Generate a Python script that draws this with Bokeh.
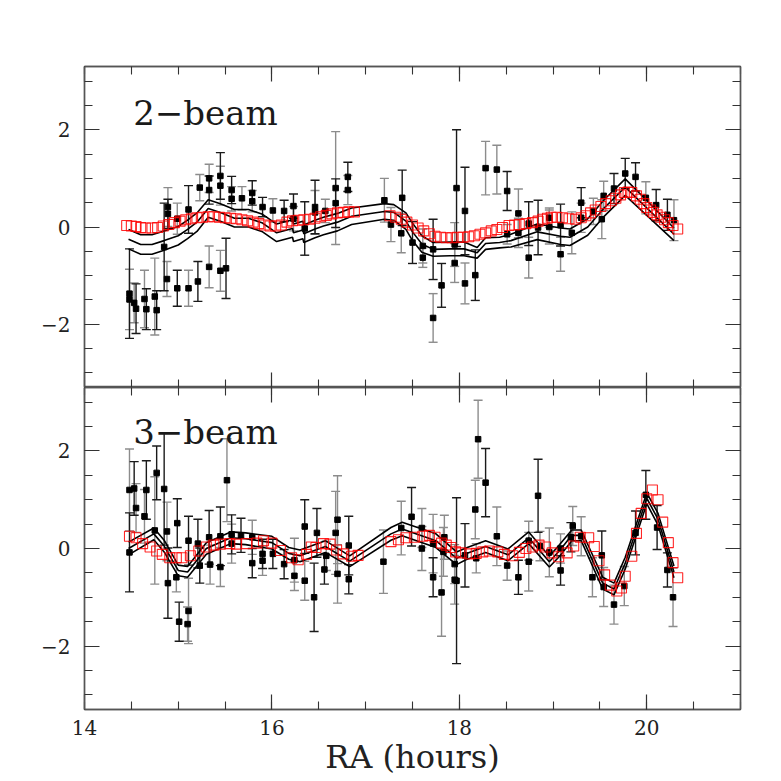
import numpy as np
from bokeh.plotting import figure
from bokeh.models import (ColumnDataSource, FixedTicker, LinearAxis, Range1d,
                          Whisker, TeeHead, Label)
from bokeh.layouts import column
from bokeh.embed import file_html
from bokeh.resources import INLINE

# ---------------- tick labels ----------------
X_TICKS = [14, 16, 18, 20]
Y_TICKS = [-2, 0, 2]
Y_LABELS = {-2: "\u22122", 0: "0", 2: "2"}
PANEL_NAMES = ["2\u2212beam", "3\u2212beam"]
X_TITLE = "RA (hours)"

# ---------------- 2-beam panel ----------------
# data points with dark error bars
top_a_x = [14.48, 14.55, 14.66, 14.77, 14.85, 14.89, 14.99, 15.11, 15.21, 15.33,
           15.45, 15.51, 15.57, 15.79, 15.90, 16.13, 16.23, 16.35, 16.46, 16.68,
           16.81, 17.39, 17.50, 17.72, 17.81, 17.97, 18.06, 18.17, 18.51, 18.74,
           18.84, 19.08, 19.30, 19.65, 19.77, 19.88, 20.10, 20.22]
top_a_y = [-1.37, -1.68, -1.69, -1.71, -0.41, 0.27, -1.26, 0.36, -1.12, 0.76,
           1.05, -0.85, 0.76, 0.70, 0.41, 0.33, 0.43, -0.03, 0.41, 0.49,
           1.03, 0.60, -0.32, -0.46, -1.20, 0.80, 0.33, -0.99, 0.74, 0.07,
           -0.01, 0.04, 0.50, 0.79, 1.10, 1.03, 0.45, 0.25]
top_a_err = [0.92, 0.51, 0.42, 0.40, 0.90, 0.30, 0.37, 0.49, 0.41, 0.29,
             0.48, 0.62, 0.28, 0.25, 0.20, 0.22, 0.25, 0.55, 0.55, 0.50,
             0.30, 0.57, 0.43, 0.62, 0.45, 1.20, 0.90, 0.52, 0.40, 0.45,
             0.56, 0.43, 0.31, 0.31, 0.31, 0.29, 0.32, 0.32]
# data points with grey error bars
top_b_x = [14.48, 14.53, 14.64, 14.75, 14.88, 14.89, 14.99, 15.11, 15.23, 15.33,
           15.33, 15.45, 15.45, 15.57, 15.68, 15.79, 16.01, 16.23, 16.46, 16.57,
           16.68, 16.81, 17.20, 17.27, 17.38, 17.61, 17.61, 17.72, 17.95, 17.95,
           18.06, 18.28, 18.40, 18.51, 18.63, 18.63, 18.74, 18.96, 18.96, 19.08,
           19.20, 19.30, 19.43, 19.52, 19.54, 19.99, 20.29]
top_b_y = [-1.49, -1.56, -1.48, -1.43, -1.07, 0.41, 0.17, -1.26, 0.81, 1.00,
           -0.82, 0.85, -0.90, 0.58, 0.59, 0.53, 0.34, 0.17, 0.30, 0.33,
           0.80, 0.76, 0.55, 0.05, -0.13, -0.39, -0.63, -1.87, -0.36, -0.74,
           -1.16, 1.21, 1.18, -0.15, 0.28, -0.12, -0.63, 0.00, 0.19, -0.56,
           -0.12, 0.19, 0.32, 0.16, 0.64, 0.60, 0.14]
top_b_err = [0.62, 0.41, 0.59, 0.79, 0.36, 0.40, 0.32, 0.37, 0.27, 0.29,
             0.43, 0.40, 0.42, 0.25, 0.24, 0.22, 0.24, 0.25, 0.45, 0.24,
             1.16, 0.30, 0.45, 0.35, 0.40, 0.35, 0.20, 0.50, 0.45, 0.40,
             0.42, 0.55, 0.50, 0.20, 0.50, 0.30, 0.42, 0.35, 0.20, 0.35,
             0.43, 0.30, 0.27, 0.40, 0.30, 0.33, 0.42]
# comparison series (open red squares)
top_red_x = [14.45, 14.50, 14.55, 14.60, 14.65, 14.72, 14.78, 14.84, 14.90, 14.96,
             15.02, 15.08, 15.14, 15.20, 15.26, 15.32, 15.38, 15.44, 15.50, 15.56,
             15.62, 15.68, 15.74, 15.80, 15.86, 15.92, 15.98, 16.04, 16.10, 16.16,
             16.22, 16.28, 16.34, 16.40, 16.46, 16.52, 16.58, 16.64, 16.70, 16.76,
             16.82, 16.88, 17.26, 17.32, 17.38, 17.44, 17.50, 17.56, 17.62, 17.68,
             17.74, 17.80, 17.86, 17.92, 17.98, 18.04, 18.10, 18.16, 18.22, 18.28,
             18.34, 18.40, 18.46, 18.53, 18.59, 18.64, 18.71, 18.78, 18.84, 18.89,
             18.94, 18.98, 19.04, 19.10, 19.17, 19.24, 19.30, 19.35, 19.40, 19.45,
             19.51, 19.56, 19.62, 19.67, 19.72, 19.76, 19.80, 19.84, 19.89, 19.93,
             19.97, 20.00, 20.04, 20.07, 20.11, 20.15, 20.19, 20.23, 20.28, 20.33]
top_red_y = [0.03, 0.02, 0.01, -0.01, -0.02, -0.02, -0.01, 0.02, 0.05, 0.09,
             0.12, 0.15, 0.17, 0.19, 0.20, 0.21, 0.21, 0.20, 0.19, 0.18,
             0.17, 0.15, 0.13, 0.10, 0.07, 0.04, 0.02, 0.02, 0.04, 0.10,
             0.13, 0.14, 0.15, 0.16, 0.18, 0.21, 0.24, 0.27, 0.29, 0.30,
             0.31, 0.31, 0.23, 0.20, 0.16, 0.10, 0.04, -0.02, -0.08, -0.14,
             -0.19, -0.21, -0.22, -0.22, -0.21, -0.21, -0.20, -0.18, -0.15, -0.12,
             -0.08, -0.05, -0.01, 0.03, 0.04, 0.05, 0.07, 0.09, 0.12, 0.16,
             0.18, 0.20, 0.20, 0.19, 0.17, 0.16, 0.19, 0.23, 0.29, 0.35,
             0.42, 0.48, 0.54, 0.59, 0.66, 0.71, 0.72, 0.71, 0.64, 0.57,
             0.48, 0.40, 0.35, 0.30, 0.25, 0.20, 0.15, 0.09, 0.03, -0.04]
# model: mean and spread
top_mod_x = [14.47, 14.60, 14.72, 14.85, 15.00, 15.10, 15.20, 15.32, 15.45, 15.60,
             15.75, 15.90, 16.05, 16.22, 16.23, 16.33, 16.34, 16.46, 16.55, 16.70,
             16.85, 17.20, 17.30, 17.43, 17.50, 17.60, 17.72, 17.90, 18.05, 18.19,
             18.28, 18.43, 18.55, 18.83, 19.08, 19.18, 19.37, 19.55, 19.77, 20.29]
top_mod_y = [-0.25, -0.36, -0.36, -0.28, -0.18, -0.05, 0.10, 0.38, 0.30, 0.18,
             0.18, 0.08, -0.12, -0.03, -0.12, -0.06, -0.14, -0.04, 0.02, 0.10,
             0.22, 0.32, 0.30, 0.12, -0.10, -0.35, -0.46, -0.45, -0.45, -0.53,
             -0.34, -0.32, -0.28, -0.10, -0.19, -0.21, 0.00, 0.40, 0.82, -0.15]
top_mod_sig = [0.20, 0.20, 0.20, 0.20, 0.19, 0.19, 0.19, 0.18, 0.18, 0.18,
               0.18, 0.18, 0.18, 0.18, 0.18, 0.18, 0.18, 0.18, 0.18, 0.18,
               0.17, 0.16, 0.16, 0.17, 0.18, 0.17, 0.14, 0.14, 0.14, 0.11,
               0.12, 0.11, 0.13, 0.16, 0.17, 0.17, 0.17, 0.17, 0.17, 0.13]

# ---------------- 3-beam panel ----------------
bot_a_x = [14.48, 14.53, 14.66, 14.77, 14.85, 14.89, 14.99, 15.01, 15.11, 15.21,
           15.23, 15.33, 15.45, 15.57, 15.67, 15.79, 15.90, 16.01, 16.13, 16.35,
           16.45, 16.48, 16.56, 16.82, 16.82, 17.49, 17.72, 17.97, 18.06, 18.28,
           18.63, 18.84, 19.08, 19.19, 19.52, 19.88, 19.99, 20.11, 20.22]
bot_a_y = [-0.08, 1.23, 1.20, 1.55, 1.22, -0.71, 0.52, -1.50, 0.16, 0.10,
           -0.35, 0.23, 0.25, 0.29, 0.27, -0.30, -0.11, -0.11, -0.32, 0.45,
           -1.00, 0.32, -0.43, 0.06, -0.63, 0.65, -0.59, -0.66, -0.14, 1.35,
           -0.59, 1.08, -0.45, 0.23, -0.14, 0.32, 1.10, 0.43, -0.44]
bot_a_err = [0.81, 0.55, 0.60, 0.55, 1.15, 0.72, 0.50, 0.40, 0.50, 0.50,
             0.36, 0.55, 0.60, 0.40, 0.35, 0.30, 0.30, 0.30, 0.30, 0.55,
             0.70, 0.50, 0.30, 0.60, 0.30, 0.60, 0.40, 1.70, 0.65, 0.70,
             0.35, 0.75, 0.30, 0.30, 0.50, 0.45, 0.50, 0.45, 0.35]
bot_b_x = [14.48, 14.55, 14.64, 14.75, 14.88, 14.98, 15.11, 15.10, 15.34, 15.45,
           15.52, 15.57, 15.79, 15.90, 16.24, 16.24, 16.35, 16.58, 16.68, 16.70,
           16.70, 17.19, 17.38, 17.60, 17.60, 17.72, 17.81, 17.83, 17.84, 17.95,
           17.95, 18.17, 18.20, 18.18, 18.40, 18.51, 18.74, 18.74, 18.86, 18.96,
           19.08, 19.21, 19.30, 19.42, 19.54, 19.65, 19.76, 20.28]
bot_b_y = [1.20, 0.83, 0.66, 0.37, 0.35, -0.59, -1.28, -1.55, -0.33, -0.38,
           1.40, 0.10, 0.23, -0.25, -0.56, -0.24, -0.66, -0.15, 0.32, 0.59,
           -0.52, -0.27, 0.42, 0.42, 0.00, 0.10, -0.90, -0.07, 0.23, -0.32,
           -0.64, 0.80, 2.24, -0.20, 0.25, -0.35, 0.16, -0.27, 0.05, -0.08,
           0.00, 0.46, 0.25, -0.59, -0.79, -1.15, -0.77, -1.00]
bot_b_err = [0.84, 0.50, 0.55, 1.10, 0.60, 0.30, 0.67, 0.35, 0.40, 0.40,
             0.85, 0.40, 0.35, 0.30, 0.30, 0.45, 0.40, 0.30, 0.85, 0.90,
             0.60, 0.65, 0.55, 0.40, 0.45, 0.60, 0.90, 0.50, 0.45, 0.40,
             0.50, 0.60, 0.80, 0.30, 0.60, 0.30, 0.40, 0.60, 0.30, 0.50,
             0.30, 0.40, 0.40, 0.40, 0.40, 0.40, 0.40, 0.60]
bot_red_x = [14.48, 14.55, 14.62, 14.70, 14.77, 14.83, 14.91, 14.98, 15.04, 15.13,
             15.22, 15.30, 15.38, 15.45, 15.55, 15.62, 15.73, 15.84, 15.91, 16.00,
             16.09, 16.21, 16.28, 16.37, 16.42, 16.47, 16.55, 16.62, 16.69, 16.76,
             16.85, 16.92, 17.27, 17.35, 17.43, 17.52, 17.61, 17.68, 17.74, 17.81,
             17.86, 17.91, 17.96, 18.02, 18.11, 18.18, 18.25, 18.32, 18.41, 18.48,
             18.57, 18.64, 18.71, 18.78, 18.85, 18.92, 18.99, 19.06, 19.15, 19.22,
             19.29, 19.38, 19.44, 19.49, 19.55, 19.61, 19.68, 19.73, 19.77, 19.84,
             19.89, 19.94, 20.00, 20.06, 20.12, 20.17, 20.23, 20.28, 20.33]
bot_red_y = [0.25, 0.22, 0.10, 0.03, -0.05, -0.12, -0.19, -0.19, -0.19, -0.15,
             -0.05, 0.03, 0.07, 0.09, 0.10, 0.09, 0.10, 0.11, 0.16, 0.11,
             -0.04, -0.19, -0.23, -0.12, 0.03, 0.02, 0.10, 0.09, -0.03, -0.11,
             -0.16, -0.14, 0.14, 0.18, 0.22, 0.23, 0.25, 0.27, 0.23, 0.11,
             0.07, 0.02, -0.07, -0.09, -0.11, -0.10, -0.07, -0.05, -0.07, -0.12,
             -0.15, -0.08, 0.00, 0.03, 0.07, 0.03, -0.09, -0.17, -0.09, 0.05,
             0.23, 0.22, 0.04, -0.25, -0.54, -0.75, -0.87, -0.81, -0.57, -0.16,
             0.31, 0.72, 1.02, 1.20, 1.00, 0.54, 0.12, -0.29, -0.60]
bot_mod_x = [14.47, 14.74, 14.85, 15.00, 15.10, 15.30, 15.56, 15.72, 16.00, 16.18,
             16.30, 16.57, 16.83, 17.27, 17.39, 17.75, 17.97, 18.07, 18.28, 18.52,
             18.74, 18.96, 19.07, 19.20, 19.30, 19.53, 19.65, 19.77, 20.00, 20.12,
             20.29]
bot_mod_y = [0.00, 0.30, 0.05, -0.45, -0.48, 0.00, 0.22, 0.20, 0.12, -0.10,
             -0.15, 0.04, -0.26, 0.30, 0.40, 0.16, -0.20, -0.11, 0.04, -0.13,
             0.22, -0.27, -0.04, 0.27, 0.27, -0.71, -0.83, -0.30, 1.03, 0.60,
             -0.48]
bot_mod_sig = [0.13, 0.12, 0.12, 0.11, 0.11, 0.12, 0.12, 0.12, 0.13, 0.12,
               0.12, 0.12, 0.11, 0.13, 0.14, 0.14, 0.13, 0.12, 0.12, 0.12,
               0.12, 0.11, 0.12, 0.11, 0.11, 0.12, 0.12, 0.12, 0.11, 0.12,
               0.12]

FONT = "DejaVu Serif"
AX_COL = "#555555"


def style_axis(ax, ticker, show_labels, overrides=None):
    ax.ticker = ticker
    ax.axis_line_color = AX_COL
    ax.axis_line_width = 1.4
    ax.major_tick_in = 15
    ax.major_tick_out = 0
    ax.minor_tick_in = 8
    ax.minor_tick_out = 0
    ax.major_tick_line_color = "#333333"
    ax.minor_tick_line_color = "#333333"
    ax.major_tick_line_width = 1.2
    ax.minor_tick_line_width = 1.1
    if show_labels:
        ax.major_label_text_font = FONT
        ax.major_label_text_font_size = "20px"
        ax.major_label_text_color = "#222222"
        ax.major_label_standoff = 14
        if overrides:
            ax.major_label_overrides = overrides
    else:
        ax.major_label_text_font_size = "0px"
        ax.major_label_text_color = None
        ax.major_label_standoff = 0
        ax.axis_label = None


def make_panel(name, a, b, red, mod, bottom, fh, mb_top, mb_bottom, name_y):
    p = figure(frame_width=656, frame_height=fh,
               x_range=Range1d(14, 21), y_range=Range1d(-3.3, 3.3),
               output_backend="svg", toolbar_location=None,
               min_border_left=84, min_border_right=26,
               min_border_top=mb_top, min_border_bottom=mb_bottom,
               background_fill_color="white", border_fill_color="white")
    p.outline_line_color = AX_COL
    p.outline_line_width = 1.4
    p.grid.visible = False

    xt = FixedTicker(ticks=X_TICKS, minor_ticks=list(np.arange(14, 21.01, 0.5)))
    yt = FixedTicker(ticks=Y_TICKS, minor_ticks=list(np.arange(-3, 3.01, 0.5)))

    below = p.xaxis[0]
    left = p.yaxis[0]
    style_axis(below, xt, bottom)
    style_axis(left, yt, True, Y_LABELS)
    ra = LinearAxis()
    style_axis(ra, yt, False)
    p.add_layout(ra, "right")
    aa = LinearAxis()
    style_axis(aa, xt, False)
    p.add_layout(aa, "above")
    if bottom:
        below.axis_label = X_TITLE
        below.axis_label_text_font = FONT
        below.axis_label_text_font_size = "32px"
        below.axis_label_text_font_style = "normal"
        below.axis_label_text_color = "#222222"
        below.axis_label_standoff = 0
        below.major_label_standoff = 10

    # model band
    mx, my, ms = mod
    my = np.array(my)
    ms = np.array(ms)
    for yy in (my + ms, my, my - ms):
        p.line(mx, yy, line_color="black", line_width=1.6)

    # error bars + points
    for (xs, ys, es), col in ((b, "#8c8c8c"), (a, "#1a1a1a")):
        xs = np.array(xs); ys = np.array(ys); es = np.array(es)
        src = ColumnDataSource(dict(x=xs, y=ys, lo=ys - es, up=ys + es))
        w = Whisker(source=src, base="x", upper="up", lower="lo",
                    line_color=col, line_width=1.4,
                    upper_head=TeeHead(size=9, line_color=col, line_width=1.4),
                    lower_head=TeeHead(size=9, line_color=col, line_width=1.4))
        p.add_layout(w)
        p.scatter(xs, ys, marker="square", size=5.5, fill_color="black",
                  line_color="black")

    rx, ry = red
    p.scatter(rx, ry, marker="square", size=10, fill_color=None,
              line_color="red", line_width=1.1, line_alpha=0.85)

    p.add_layout(Label(x=14.52, y=name_y, text=name, text_font=FONT,
                       text_font_size="34px", text_color="#1a1a1a",
                       text_baseline="alphabetic"))
    return p


p1 = make_panel(PANEL_NAMES[0],
                (top_a_x, top_a_y, top_a_err), (top_b_x, top_b_y, top_b_err),
                (top_red_x, top_red_y), (top_mod_x, top_mod_y, top_mod_sig),
                False, 321, 66, 0, 2.35)
p2 = make_panel(PANEL_NAMES[1],
                (bot_a_x, bot_a_y, bot_a_err), (bot_b_x, bot_b_y, bot_b_err),
                (bot_red_x, bot_red_y), (bot_mod_x, bot_mod_y, bot_mod_sig),
                True, 322, 0, 66, 2.39)

layout = column(p1, p2, spacing=0)
open("out.html", "w").write(file_html(layout, INLINE, "RA plot"))
